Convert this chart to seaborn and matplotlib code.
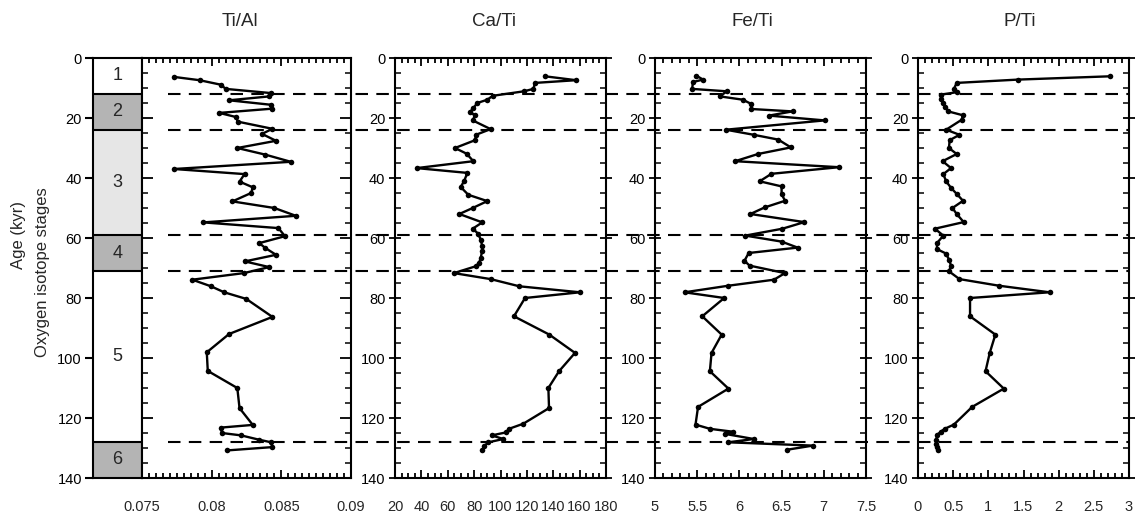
import numpy as np
import pandas as pd
import matplotlib
matplotlib.use("Agg")
import matplotlib.pyplot as plt
import matplotlib.transforms as mtransforms
from matplotlib.lines import Line2D
from matplotlib.ticker import MultipleLocator
import seaborn as sns

# ---- Marine isotope stages (age in kyr) ----
stage_names = ["1", "2", "3", "4", "5", "6"]
stage_top = [0, 12, 24, 59, 71, 128]
stage_bottom = [12, 24, 59, 71, 128, 140]
stage_colors = ["white", "#b4b4b4", "#e6e6e6", "#b4b4b4", "white", "#b4b4b4"]
stage_bounds = [12, 24, 59, 71, 128]

# ---- Ti/Al ----
tial_age = [6.3, 7.4, 8.9, 10.3, 11.7, 12.8, 14.1, 15.6, 16.9, 18.3, 19.7, 21.2,
            23.6, 25.3, 27.6, 30.0, 32.2, 34.6, 37.0, 38.7, 41.2, 43.1, 45.0, 47.8,
            50.0, 52.6, 54.8, 56.7, 59.4, 61.7, 63.3, 65.6, 67.8, 69.7, 71.7, 73.9,
            76.1, 78.1, 80.3, 86.3, 92.0, 98.1, 104.3, 110.0, 116.7, 122.3, 123.2,
            125.0, 125.8, 127.2, 128.1, 129.7, 130.8]
tial_val = [0.07729, 0.07913, 0.08066, 0.08101, 0.08427, 0.08413, 0.08125, 0.08427,
            0.08432, 0.08054, 0.08177, 0.08186, 0.08436, 0.08361, 0.08462, 0.08184,
            0.08384, 0.08568, 0.07729, 0.08236, 0.08200, 0.08295, 0.08283, 0.08149,
            0.08450, 0.08604, 0.07941, 0.08479, 0.08526, 0.08342, 0.08384, 0.08462,
            0.08238, 0.08413, 0.08231, 0.07861, 0.07995, 0.08090, 0.08248, 0.08436,
            0.08125, 0.07965, 0.07972, 0.08184, 0.08200, 0.08295, 0.08066, 0.08073,
            0.08212, 0.08337, 0.08427, 0.08436, 0.08113]

# ---- Ca/Ti ----
cati_age = [6.1, 7.4, 8.3, 10.3, 11.1, 12.6, 13.9, 15.0, 16.7, 18.0, 19.1, 20.8,
            23.7, 25.6, 27.4, 30.0, 31.9, 34.4, 36.7, 38.3, 41.1, 43.0, 45.6, 47.7,
            50.0, 52.0, 54.8, 56.9, 58.6, 60.6, 62.8, 64.4, 66.7, 68.3, 69.4, 71.7,
            73.7, 76.1, 78.1, 80.0, 86.1, 92.2, 98.3, 104.4, 110.0, 116.7, 121.9,
            123.6, 124.8, 125.8, 127.0, 128.1, 129.4, 130.8]
cati_val = [133.8, 157.3, 126.2, 124.9, 117.8, 94.1, 90.0, 82.4, 79.4, 76.9, 80.7,
            78.9, 92.5, 81.4, 80.7, 65.5, 74.3, 79.4, 36.4, 74.9, 72.3, 69.8, 75.6,
            90.0, 78.9, 68.8, 86.2, 78.9, 83.2, 85.0, 86.2, 86.0, 85.0, 83.7, 81.4,
            64.7, 92.5, 114.3, 160.3, 118.6, 110.2, 137.0, 156.5, 144.4, 136.3,
            136.8, 117.3, 106.5, 104.2, 93.3, 102.2, 90.8, 87.5, 86.2]

# ---- Fe/Ti ----
feti_age = [5.9, 7.2, 8.0, 10.3, 11.1, 12.8, 13.9, 15.3, 17.0, 17.8, 19.2, 20.8,
            23.9, 25.6, 27.2, 29.8, 32.0, 34.4, 36.4, 38.6, 41.1, 42.8, 45.3, 47.6,
            49.8, 52.0, 54.7, 56.9, 59.2, 61.2, 63.2, 65.0, 67.6, 69.2, 71.7, 73.9,
            75.9, 78.1, 80.0, 86.1, 92.2, 98.3, 104.4, 110.2, 116.3, 122.2, 123.6,
            124.6, 125.3, 127.0, 128.1, 129.2, 130.6]
feti_val = [5.49, 5.57, 5.45, 5.44, 5.85, 5.77, 6.04, 6.14, 6.14, 6.63, 6.35, 7.01,
            5.84, 6.17, 6.46, 6.61, 6.22, 5.95, 7.18, 6.38, 6.24, 6.50, 6.50, 6.54,
            6.30, 6.13, 6.77, 6.51, 6.07, 6.50, 6.69, 6.11, 6.06, 6.12, 6.54, 6.41,
            5.87, 5.35, 5.82, 5.56, 5.79, 5.67, 5.65, 5.87, 5.51, 5.48, 5.65, 5.93,
            5.83, 6.17, 5.87, 6.87, 6.56]

# ---- P/Ti ----
pti_age = [6.1, 7.2, 8.3, 10.3, 11.4, 12.2, 13.7, 15.0, 16.3, 17.8, 19.1, 20.6,
           23.9, 25.6, 27.4, 30.0, 32.0, 34.4, 36.7, 38.7, 41.1, 43.3, 45.3, 47.6,
           50.0, 52.0, 54.7, 56.9, 59.2, 61.7, 63.7, 65.2, 67.2, 69.2, 71.1, 73.7,
           75.9, 78.1, 80.0, 86.1, 92.2, 98.3, 104.4, 110.2, 116.3, 122.2, 123.6,
           124.6, 125.7, 127.2, 128.6, 129.7, 130.8]
pti_val = [2.73, 1.42, 0.55, 0.51, 0.55, 0.33, 0.33, 0.36, 0.39, 0.43, 0.64, 0.62,
           0.40, 0.59, 0.45, 0.44, 0.55, 0.35, 0.47, 0.36, 0.40, 0.47, 0.55, 0.64,
           0.49, 0.55, 0.65, 0.24, 0.36, 0.27, 0.27, 0.40, 0.44, 0.47, 0.44, 0.59,
           1.15, 1.87, 0.74, 0.74, 1.10, 1.02, 0.96, 1.22, 0.77, 0.51, 0.38, 0.32,
           0.27, 0.26, 0.26, 0.27, 0.28]

# ---- axis scales and tick labels ----
tial_ticks = [0.075, 0.08, 0.085, 0.09]
tial_labels = ["0.075", "0.08", "0.085", "0.09"]
cati_ticks = [20, 40, 60, 80, 100, 120, 140, 160, 180]
cati_labels = ["20", "40", "60", "80", "100", "120", "140", "160", "180"]
feti_ticks = [5, 5.5, 6, 6.5, 7, 7.5]
feti_labels = ["5", "5.5", "6", "6.5", "7", "7.5"]
pti_ticks = [0, 0.5, 1, 1.5, 2, 2.5, 3]
pti_labels = ["0", "0.5", "1", "1.5", "2", "2.5", "3"]
age_ticks = [0, 20, 40, 60, 80, 100, 120, 140]

sns.set_theme(style="ticks")
plt.rcParams["font.family"] = ["Liberation Sans", "DejaVu Sans"]
plt.rcParams["axes.linewidth"] = 1.5

W, H = 1135, 516
fig = plt.figure(figsize=(W / 100, H / 100), dpi=100)

Y_TOP, Y_BOT = 58, 478


def rect(x0, x1):
    return [x0 / W, 1 - Y_BOT / H, (x1 - x0) / W, (Y_BOT - Y_TOP) / H]


# ---- stage column ----
ax_st = fig.add_axes(rect(93, 142))
for top, bot, col, name in zip(stage_top, stage_bottom, stage_colors, stage_names):
    ax_st.axhspan(top, bot, color=col, lw=0)
    ax_st.text(0.5, (top + bot) / 2, name, ha="center", va="center", fontsize=13)
for b in stage_bounds:
    ax_st.axhline(b, color="black", lw=1.5)
ax_st.set_xlim(0, 1)
ax_st.set_ylim(140, 0)
ax_st.set_xticks([])
ax_st.set_yticks(age_ticks)
ax_st.tick_params(axis="y", direction="out", length=6, width=1.5, labelsize=10.5,
                  pad=2, colors="black")
for s in ax_st.spines.values():
    s.set_color("black")
    s.set_linewidth(1.5)

panels = [
    (rect(142, 351), tial_val, tial_age, (0.075, 0.09), 0.005, 0.0005,
     tial_ticks, tial_labels, "Ti/Al", 240, False),
    (rect(395, 606), cati_val, cati_age, (20, 180), 20, 5,
     cati_ticks, cati_labels, "Ca/Ti", 494, True),
    (rect(655, 866), feti_val, feti_age, (5, 7.5), 0.5, 0.1,
     feti_ticks, feti_labels, "Fe/Ti", 752, True),
    (rect(918, 1129), pti_val, pti_age, (0, 3), 0.5, 0.1,
     pti_ticks, pti_labels, "P/Ti", 1020, True),
]

for (r, vals, ages, xlim, maj, mnr, ticks, labels, title, tx, ylab) in panels:
    ax = fig.add_axes(r)
    df = pd.DataFrame({"value": vals, "age": ages})
    sns.lineplot(data=df, x="value", y="age", sort=False, estimator=None,
                 color="black", lw=1.7, marker="o", markersize=4,
                 markeredgewidth=0, ax=ax)
    ax.set_xlim(*xlim)
    ax.set_ylim(140, 0)
    ax.set_xlabel("")
    ax.set_ylabel("")
    ax.xaxis.set_major_locator(MultipleLocator(maj))
    ax.xaxis.set_minor_locator(MultipleLocator(mnr))
    ax.yaxis.set_major_locator(MultipleLocator(20))
    ax.yaxis.set_minor_locator(MultipleLocator(5))
    ax.tick_params(axis="x", which="both", direction="in", top=True, bottom=True,
                   labelbottom=False, width=1.3, colors="black")
    ax.tick_params(axis="x", which="major", length=6)
    ax.tick_params(axis="x", which="minor", length=3.5)
    ax.tick_params(axis="y", which="major", direction="in" if not ylab else "inout",
                   length=8, width=1.3, left=True, right=True, labelleft=ylab,
                   labelsize=10.5, pad=3, colors="black")
    ax.tick_params(axis="y", which="minor", direction="in", length=4, width=1.3,
                   left=True, right=True)
    for s in ax.spines.values():
        s.set_color("black")
        s.set_linewidth(1.5)
    for t, lab in zip(ticks, labels):
        ax.annotate(lab, xy=(t, 0), xycoords=("data", "axes fraction"),
                    xytext=(0, -29 * 0.72), textcoords="offset points",
                    ha="center", va="center", fontsize=10.5, annotation_clip=False)
    fig.text(tx / W, 1 - 22 / H, title, ha="center", va="center", fontsize=13.5)

# ---- stage boundary lines across all panels ----
blend = mtransforms.blended_transform_factory(fig.transFigure, ax_st.transData)
for b in stage_bounds:
    fig.add_artist(Line2D([168 / W, 1129 / W], [b, b], transform=blend,
                          color="black", lw=1.5, dashes=(6, 4), zorder=10))

fig.text(19 / W, 1 - 235 / H, "Age (kyr)", rotation=90, ha="center",
         va="center", fontsize=12)
fig.text(43 / W, 1 - 272 / H, "Oxygen isotope stages", rotation=90,
         ha="center", va="center", fontsize=12)

fig.savefig("out.png", dpi=100)
